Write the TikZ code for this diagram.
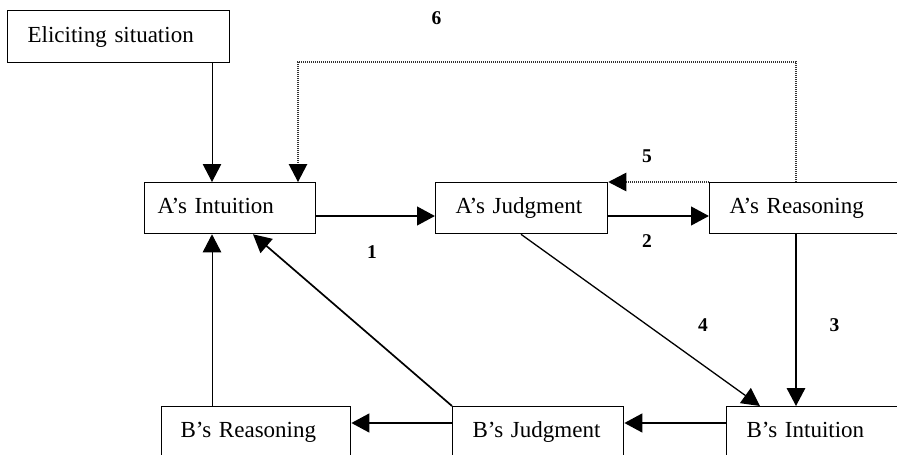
\documentclass[tikz,border=0pt]{standalone}
\usepackage{fontspec}
\setmainfont{Liberation Serif}
\usetikzlibrary{arrows.meta,calc}
\begin{document}
\begin{tikzpicture}[x=1pt,y=-1pt,
  box/.style={draw=black, line width=1.3pt, rectangle, anchor=north west,
    minimum height=51pt, inner xsep=20pt, inner ysep=0pt,
    text height=16pt, text depth=5pt, align=left,
    font=\fontsize{23}{27}\selectfont},
  tip/.style={-{Triangle[length=18pt,width=18.5pt,color=black,fill=black]}},
  thinarrow/.style={tip, line width=1pt},
  midarrow/.style={tip, line width=1.7pt},
  thickarrow/.style={tip, line width=2.8pt},
  dotarrow/.style={tip, line width=1.1pt, draw=black!80, dash pattern=on 1.1pt off 0.9pt},
  num/.style={font=\fontsize{19.5}{22}\selectfont\bfseries, inner sep=0pt}]

\path[use as bounding box] (0,0) rectangle (897,455);
\clip (0,0) rectangle (897,455);

% boxes
\node[box, minimum height=52pt, text width=182pt] (elic) at (7,10) {Eliciting situation};
\node[box, inner xsep=13pt, text width=145pt] (ai) at (144,182) {A’s Intuition};
\node[box, text width=132pt] (aj) at (435,182) {A’s Judgment};
\node[box, text width=160pt] (ar) at (709,182) {A’s Reasoning};
\node[box, inner xsep=19pt, text width=151pt] (br) at (161,406) {B’s Reasoning};
\node[box, text width=131pt] (bj) at (452,406) {B’s Judgment};
\node[box, text width=160pt] (bi) at (726,406) {B’s Intuition};

% helper positions for straight connectors
\coordinate (xa) at (212,0);
\coordinate (xd) at (298,0);
\coordinate (xr) at (796,0);
\coordinate (ya) at (0,62);
\coordinate (y1) at (0,216);
\coordinate (y2) at (0,423);

% connectors
\draw[thinarrow] (elic.south -| xa) -- (ai.north -| xa);
\draw[dotarrow] (ar.north -| xr) -- (xr |- ya) -- (xd |- ya) -- (ai.north -| xd);
\draw[thickarrow] (ai.east |- y1) -- (aj.west |- y1);
\draw[thickarrow] (aj.east |- y1) -- (ar.west |- y1);
\draw[dotarrow] (ar.north west) -- (aj.north east);
\draw[midarrow] (ar.south -| xr) -- (bi.north -| xr);
\draw[tip, line width=1.3pt] ($(aj.south west)+(86,0)$) -- ($(bi.north west)+(34,0)$);
\draw[thickarrow] (bi.west |- y2) -- (bj.east |- y2);
\draw[thickarrow] (bj.west |- y2) -- (br.east |- y2);
\draw[thinarrow] (br.north -| xa) -- (ai.south -| xa);
\draw[midarrow] (bj.north west) -- ($(ai.south west)+(109,0)$);

% step numbers
\node[num] (n1) at (372,252) {1};
\node[num] (n2) at (647,241) {2};
\node[num] (n3) at (834.5,325.5) {3};
\node[num] (n4) at (703,325.5) {4};
\node[num] (n5) at (647,156) {5};
\node[num] (n6) at (436.5,18.5) {6};
\end{tikzpicture}
\end{document}
